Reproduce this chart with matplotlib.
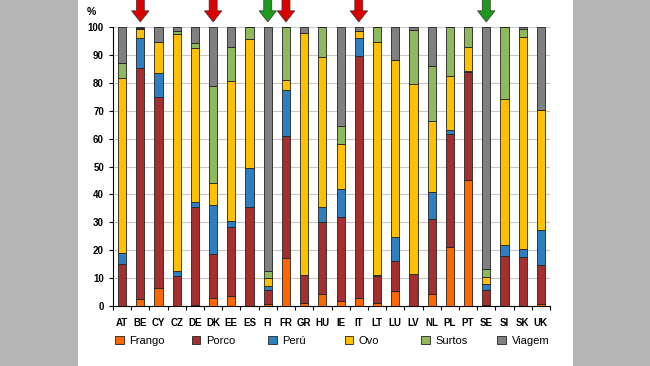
import numpy as np
import matplotlib.pyplot as plt
import matplotlib.transforms as mtransforms
from matplotlib.patches import Rectangle, Polygon

plt.rcParams['font.family'] = ['Liberation Sans', 'DejaVu Sans']

countries = ['AT', 'BE', 'CY', 'CZ', 'DE', 'DK', 'EE', 'ES', 'FI', 'FR', 'GR', 'HU',
             'IE', 'IT', 'LT', 'LU', 'LV', 'NL', 'PL', 'PT', 'SE', 'SI', 'SK', 'UK']

frango = [0, 2.5, 6.3, 0, 0.3, 3, 3.6, 0, 0.7, 17.1, 1, 4.2,
          1.8, 2.8, 1, 5.4, 0, 4.2, 21.1, 45, 0.5, 0, 0, 0.6]
porco = [15, 82.8, 68.5, 10.9, 35.1, 15.5, 24.6, 35.4, 5, 44, 10.1, 25.9,
         30, 86.9, 9.8, 10.7, 11.5, 26.9, 40.5, 38.7, 5.2, 18.1, 17.5, 14.1]
peru = [4.1, 10.7, 8.7, 1.8, 1.9, 17.7, 2.1, 14, 1.6, 16.4, 0, 5.3,
        10.1, 6.3, 0.2, 8.5, 0, 9.7, 1.6, 0.4, 2.1, 3.8, 2.8, 12.6]
ovo = [62.6, 3.3, 11.1, 84.9, 55.2, 8, 50.2, 46.3, 2.6, 3.6, 86.7, 53.7,
       16.1, 2.4, 83.6, 63.4, 68, 25.6, 19.3, 8.7, 2.7, 52.3, 76, 42.8]
surtos = [5.4, 0.5, 0, 0.8, 1.9, 34.5, 12.3, 4.3, 2.7, 18.9, 0, 10.9,
          6.4, 0, 5.4, 0, 19.3, 19.7, 17.5, 7.2, 2.7, 25.8, 3, 0]
viagem = [12.9, 0.2, 5.4, 1.6, 5.6, 21.3, 7.2, 0, 87.4, 0, 2.2, 0,
          35.6, 1.6, 0, 12, 1.2, 13.9, 0, 0, 86.8, 0, 0.7, 29.9]

series = [('Frango', frango, '#ff6600'), ('Porco', porco, '#a3302e'),
          ('Perú', peru, '#2e7fc2'), ('Ovo', ovo, '#ffc000'),
          ('Surtos', surtos, '#8fb95c'), ('Viagem', viagem, '#808080')]

red_arrows = ['BE', 'DK', 'FR', 'IT']
green_arrows = ['FI', 'SE']

fig = plt.figure(figsize=(6.5, 3.66), dpi=100)
fig.patch.set_facecolor('#b5b5b5')
fig.patches.append(Rectangle((78 / 650, 0), (573 - 78) / 650, 1, transform=fig.transFigure,
                             facecolor='white', edgecolor='none', zorder=-10))

ax = fig.add_axes([113 / 650, 60 / 366, 437 / 650, 279 / 366])
ax.set_facecolor('none')
x = np.arange(len(countries))
bottom = np.zeros(len(countries))
handles = []
for name, vals, col in series:
    v = np.array(vals)
    b = ax.bar(x, v, 0.45, bottom=bottom, color=col, edgecolor='#222222', linewidth=0.6,
               label=name, zorder=3)
    handles.append(b)
    bottom += v

ax.set_xlim(-0.5, len(countries) - 0.5)
ax.set_ylim(0, 100)
ax.set_yticks(range(0, 101, 10))
ax.yaxis.grid(True, color='#c8c8c8', linewidth=0.8, zorder=0)
ax.set_xticks(x)
ax.set_xticklabels(countries, fontsize=7, fontweight='bold')
ax.set_xticks(np.arange(-0.5, len(countries), 1), minor=True)
ax.tick_params(axis='x', which='major', length=0, pad=9)
ax.tick_params(axis='x', which='minor', length=3, width=0.8)
ax.tick_params(axis='y', labelsize=7, length=3, width=0.8)
for lab in ax.get_yticklabels():
    lab.set_fontweight('bold')
for s in ['top', 'right']:
    ax.spines[s].set_visible(False)
for s in ['left', 'bottom']:
    ax.spines[s].set_linewidth(0.8)
ax.text(-0.05, 1.035, '%', transform=ax.transAxes, fontsize=7.5, fontweight='bold',
        ha='center', va='bottom')

# arrows above the bars: x in data units, y in axes fraction
trans = mtransforms.blended_transform_factory(ax.transData, ax.transAxes)

def arrow(c, col):
    i = countries.index(c)
    sw, hw = 0.22, 0.48
    tip, neck, top = 1.018, 1.058, 1.1
    pts = [(i - sw, top), (i + sw, top), (i + sw, neck), (i + hw, neck),
           (i, tip), (i - hw, neck), (i - sw, neck)]
    ax.add_patch(Polygon(pts, closed=True, transform=trans, facecolor=col,
                         edgecolor='#333333', linewidth=0.5, clip_on=False, zorder=5))

for c in red_arrows:
    arrow(c, '#dd0000')
for c in green_arrows:
    arrow(c, '#1f9a1f')

# legend entries on a fixed spacing, as in the original
for k, h in enumerate(handles):
    fig.legend([h], [series[k][0]], loc='center left',
               bbox_to_anchor=((115 + 76.5 * k) / 650, 1 - 341 / 366),
               frameon=False, fontsize=8, handlelength=0.8, handleheight=0.8,
               handletextpad=0.5, borderpad=0, borderaxespad=0)

fig.savefig('out.png', dpi=100, facecolor=fig.get_facecolor())
